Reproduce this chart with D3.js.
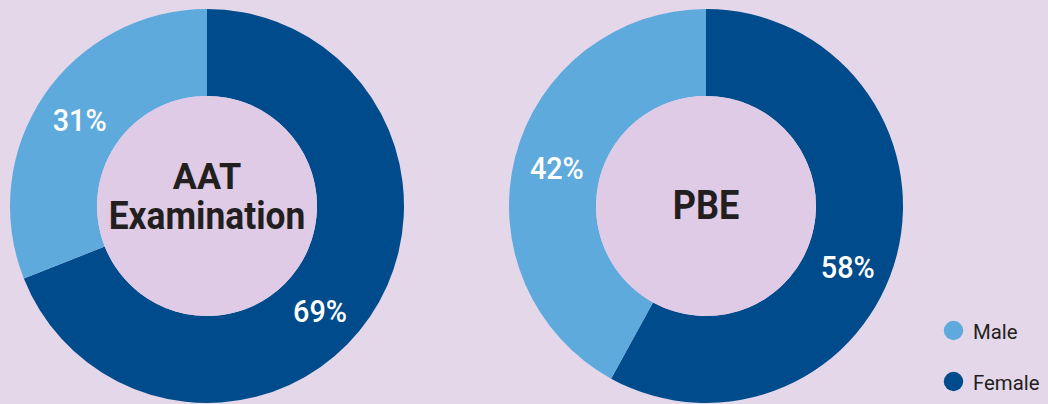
<!DOCTYPE html>
<html><head><meta charset="utf-8">
<script src="https://cdn.jsdelivr.net/npm/d3@7/dist/d3.min.js"></script>
<style>
html,body{margin:0;padding:0;background:#e4d7ea;}
svg{display:block;}
</style></head>
<body>
<svg id="chart" width="1048" height="404"></svg>
<script>
const charts = ["AAT Examination", "PBE"];
const chartTitleLines = [["AAT", "Examination"], ["PBE"]];
const seriesNames = ["Female", "Male"];
const femaleValues = [69, 58];
const maleValues = [31, 42];
const legendItems = ["Male", "Female"];

const colors = {Male: "#5eaadd", Female: "#004b8c"};
const svg = d3.select("#chart");

const xScale = d3.scalePoint().domain(charts).range([207, 706]);
const cy = 206;
const outerR = 197, innerR = 110;

const pie = d3.pie().sort(null).value(d => d.value);
const arc = d3.arc().innerRadius(innerR).outerRadius(outerR);

const font = "Roboto,'Liberation Sans',Arial,sans-serif";

charts.forEach((c, i) => {
  const data = seriesNames.map(n => ({name: n, value: n === "Female" ? femaleValues[i] : maleValues[i]}));
  const g = svg.append("g").attr("transform", `translate(${xScale(c)},${cy})`);
  const arcs = pie(data);
  g.selectAll("path.slice").data(arcs).enter().append("path")
    .attr("class", "slice")
    .attr("d", arc)
    .attr("fill", d => colors[d.data.name]);
  g.append("circle").attr("r", innerR).attr("fill", "#dfcbe5");
  g.selectAll("text.pct").data(arcs).enter().append("text")
    .attr("class", "pct")
    .attr("transform", d => {
      const shift = d.data.name === "Female" ? 0.15 : 0.0;
      const a = (d.startAngle + d.endAngle) / 2 + shift;
      const r = 154;
      return `translate(${Math.sin(a) * r},${-Math.cos(a) * r + 11.5}) scale(0.9,1)`;
    })
    .attr("text-anchor", "middle")
    .attr("fill", "#ffffff")
    .style("font-family", font)
    .style("font-weight", "500")
    .style("font-size", "32px")
    .text(d => d.data.value + "%");
  const lines = chartTitleLines[i];
  if (lines.length === 2) {
    const sizes = [37, 38];
    const ys = [-16.7, 23.3];
    lines.forEach((l, j) => {
      g.append("text")
        .attr("transform", `translate(0,${ys[j]}) scale(${j === 0 ? 0.97 : 0.93},1)`)
        .attr("text-anchor", "middle")
        .attr("fill", "#231f20")
        .style("font-family", font)
        .style("font-weight", "bold")
        .style("font-size", sizes[j] + "px")
        .text(l);
    });
  } else {
    g.append("text")
      .attr("transform", `translate(0,13) scale(0.88,1)`)
      .attr("text-anchor", "middle")
      .attr("fill", "#231f20")
      .style("font-family", font)
      .style("font-weight", "bold")
      .style("font-size", "41px")
      .text(lines[0]);
  }
});

const legendY = d3.scalePoint().domain(legendItems).range([330.5, 381.5]);
const lg = svg.append("g");
legendItems.forEach(n => {
  lg.append("circle").attr("cx", 953.5).attr("cy", legendY(n)).attr("r", 9.7).attr("fill", colors[n]);
  lg.append("text")
    .attr("transform", `translate(973,${legendY(n) + 8}) scale(0.97,1)`)
    .attr("fill", "#231f20")
    .style("font-family", font)
    .style("font-size", "21px")
    .text(n);
});
</script>
</body></html>
